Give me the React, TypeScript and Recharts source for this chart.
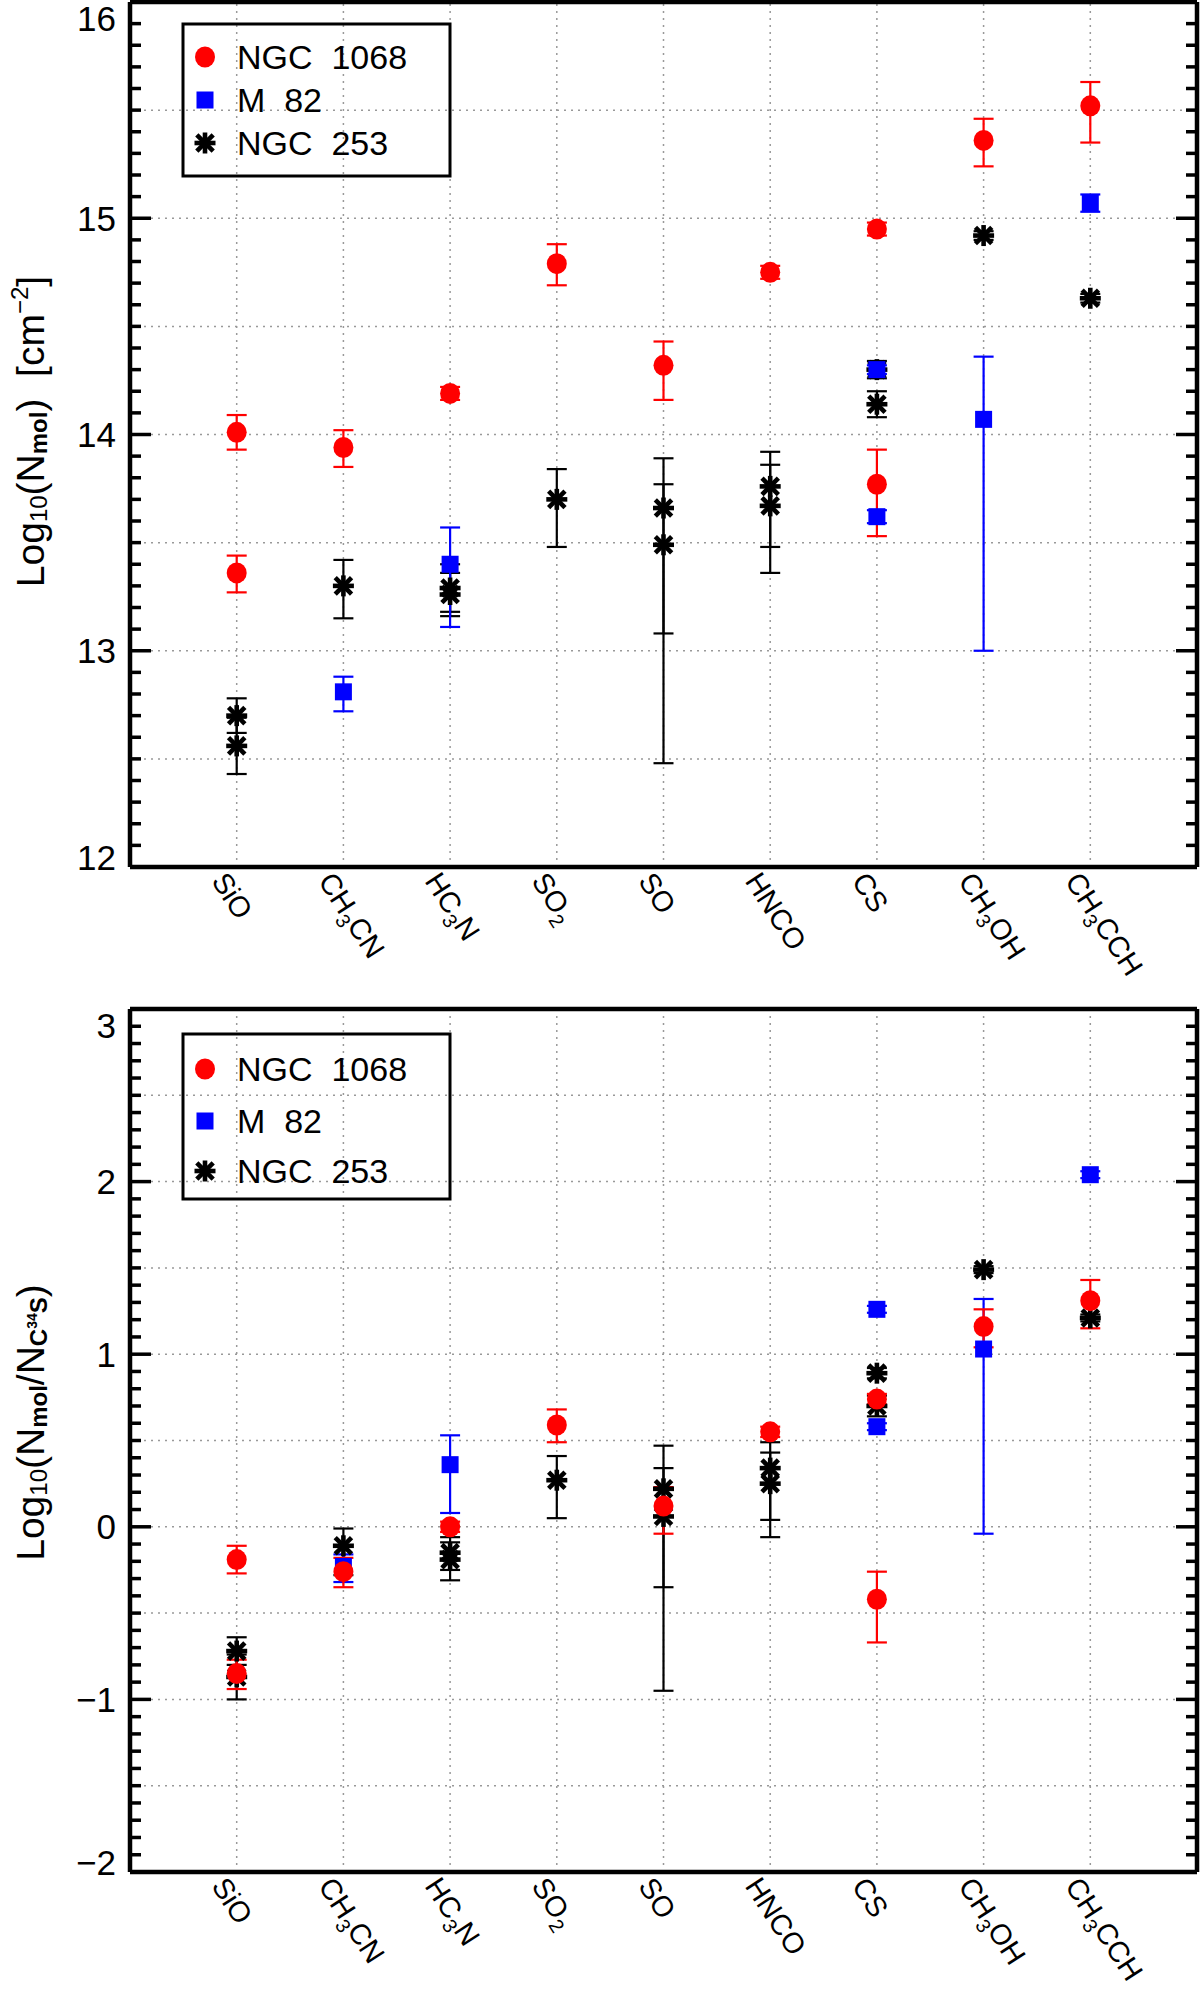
import React from "react";
import { ScatterChart, Scatter, XAxis, YAxis, ErrorBar, ReferenceLine } from "recharts";

const FONT = '"Liberation Sans", Arial, sans-serif';

const MOLECULES = ["SiO", "CH3CN", "HC3N", "SO2", "SO", "HNCO", "CS", "CH3OH", "CH3CCH"];

// [molecule, value, error down, error up]
type Row = [string, number, number, number];

// upper panel: Log10(N_mol) [cm^-2]
const TOP_NGC1068: Row[] = [
  ["SiO", 14.01, 0.08, 0.08],
  ["SiO", 13.36, 0.09, 0.08],
  ["CH3CN", 13.94, 0.09, 0.08],
  ["HC3N", 14.19, 0.03, 0.03],
  ["SO2", 14.79, 0.1, 0.09],
  ["SO", 14.32, 0.16, 0.11],
  ["HNCO", 14.75, 0.03, 0.03],
  ["CS", 14.95, 0.03, 0.03],
  ["CS", 13.77, 0.24, 0.16],
  ["CH3OH", 15.36, 0.12, 0.1],
  ["CH3CCH", 15.52, 0.17, 0.11],
];
const TOP_M82: Row[] = [
  ["CH3CN", 12.81, 0.09, 0.07],
  ["HC3N", 13.4, 0.29, 0.17],
  ["CS", 14.3, 0.02, 0.02],
  ["CS", 13.62, 0.03, 0.03],
  ["CH3OH", 14.07, 1.07, 0.29],
  ["CH3CCH", 15.07, 0.04, 0.04],
];
const TOP_NGC253: Row[] = [
  ["SiO", 12.7, 0.08, 0.08],
  ["SiO", 12.56, 0.13, 0.13],
  ["CH3CN", 13.3, 0.15, 0.12],
  ["HC3N", 13.29, 0.11, 0.11],
  ["HC3N", 13.26, 0.1, 0.1],
  ["SO2", 13.7, 0.22, 0.14],
  ["SO", 13.66, 0.58, 0.23],
  ["SO", 13.49, 1.01, 0.28],
  ["HNCO", 13.76, 0.28, 0.16],
  ["HNCO", 13.67, 0.31, 0.19],
  ["CS", 14.3, 0.04, 0.04],
  ["CS", 14.14, 0.06, 0.06],
  ["CH3OH", 14.92, 0.02, 0.02],
  ["CH3CCH", 14.63, 0.02, 0.02],
];

// lower panel: Log10(N_mol / N_C34S)
const BOT_NGC1068: Row[] = [
  ["SiO", -0.19, 0.08, 0.08],
  ["SiO", -0.85, 0.09, 0.08],
  ["CH3CN", -0.26, 0.09, 0.08],
  ["HC3N", 0.0, 0.03, 0.03],
  ["SO2", 0.59, 0.1, 0.09],
  ["SO", 0.12, 0.16, 0.11],
  ["HNCO", 0.55, 0.03, 0.03],
  ["CS", 0.74, 0.03, 0.03],
  ["CS", -0.42, 0.25, 0.16],
  ["CH3OH", 1.16, 0.12, 0.1],
  ["CH3CCH", 1.31, 0.16, 0.12],
];
const BOT_M82: Row[] = [
  ["CH3CN", -0.23, 0.09, 0.07],
  ["HC3N", 0.36, 0.28, 0.17],
  ["CS", 1.26, 0.02, 0.02],
  ["CS", 0.58, 0.02, 0.02],
  ["CH3OH", 1.03, 1.07, 0.29],
  ["CH3CCH", 2.04, 0.02, 0.02],
];
const BOT_NGC253: Row[] = [
  ["SiO", -0.72, 0.08, 0.08],
  ["SiO", -0.87, 0.13, 0.13],
  ["CH3CN", -0.11, 0.17, 0.1],
  ["HC3N", -0.15, 0.1, 0.09],
  ["HC3N", -0.19, 0.12, 0.1],
  ["SO2", 0.27, 0.22, 0.14],
  ["SO", 0.22, 0.57, 0.25],
  ["SO", 0.06, 1.01, 0.28],
  ["HNCO", 0.34, 0.3, 0.15],
  ["HNCO", 0.25, 0.31, 0.18],
  ["CS", 0.89, 0.03, 0.03],
  ["CS", 0.7, 0.06, 0.06],
  ["CH3OH", 1.49, 0.02, 0.02],
  ["CH3CCH", 1.21, 0.02, 0.02],
];

const TOP_MAJOR = [12, 13, 14, 15, 16];
const TOP_GRID = [12.5, 13, 13.5, 14, 14.5, 15, 15.5];
const BOT_MAJOR = [-2, -1, 0, 1, 2, 3];
const BOT_GRID = [-1.5, -1, -0.5, 0, 0.5, 1, 1.5, 2, 2.5];
const LEGEND = ["NGC\u00a0\u00a01068", "M\u00a0\u00a082", "NGC\u00a0\u00a0253"];

const RED = "#ff0000";
const BLUE = "#0000ff";
const BLACK = "#000000";

const PLOT_LEFT = 130;
const PLOT_RIGHT = 1197;
const XAXIS_H = 100;

const toPoints = (rows: Row[]) =>
  rows.map(([m, v, lo, hi]) => ({ x: MOLECULES.indexOf(m) + 1, y: v, err: [lo, hi] }));

function withMinor(majors: number[]) {
  const out: number[] = [];
  for (let i = 0; i < majors.length - 1; i++) {
    for (let k = 0; k < 10; k++) out.push(Math.round((majors[i] + k * 0.1) * 10) / 10);
  }
  out.push(majors[majors.length - 1]);
  return out;
}

function Dot({ cx, cy, r = 10 }: any) {
  if (cx == null || cy == null) return null;
  return <ellipse cx={cx} cy={cy} rx={r} ry={r + 0.5} fill={RED} />;
}

function Square({ cx, cy, s = 17 }: any) {
  if (cx == null || cy == null) return null;
  return <rect x={cx - s / 2} y={cy - s / 2} width={s} height={s} fill={BLUE} />;
}

function Star({ cx, cy, r = 10.5 }: any) {
  if (cx == null || cy == null) return null;
  const d = r * 0.78;
  return (
    <g stroke={BLACK} strokeWidth={4.6} strokeLinecap="butt">
      <line x1={cx - r} y1={cy} x2={cx + r} y2={cy} />
      <line x1={cx} y1={cy - r} x2={cx} y2={cy + r} />
      <line x1={cx - d} y1={cy - d} x2={cx + d} y2={cy + d} />
      <line x1={cx - d} y1={cy + d} x2={cx + d} y2={cy - d} />
    </g>
  );
}

function MoleculeLabel({ name, x, y }: { name: string; x: number; y: number }) {
  const parts = name.split(/(\d)/).filter(Boolean);
  let sub = false;
  return (
    <text x={x} y={y} transform={`rotate(57 ${x} ${y})`} fontSize={29} fontFamily={FONT} fill="#000">
      {parts.map((p, i) => {
        const isNum = /\d/.test(p);
        let dy = 0;
        if (isNum && !sub) dy = 7;
        if (!isNum && sub) dy = -7;
        sub = isNum;
        return (
          <tspan key={i} dy={dy} fontSize={isNum ? 20 : 29}>
            {p}
          </tspan>
        );
      })}
    </text>
  );
}

interface PanelProps {
  top: number;
  height: number;
  marginTop: number;
  marginBottom: number;
  majors: number[];
  grid: number[];
  n1068: Row[];
  m82: Row[];
  n253: Row[];
  title: React.ReactNode;
  titleShift: number;
  legendTop: number;
  legendHeight: number;
  legendRows: number[];
}

function Panel(p: PanelProps) {
  const domain = [p.majors[0], p.majors[p.majors.length - 1]];
  const plotTop = p.marginTop;
  const plotBottom = p.height - p.marginBottom - XAXIS_H;
  const ticks = withMinor(p.majors);

  const yTick = (t: any) => {
    const v = t.payload.value;
    const y = t.y;
    const major = Math.abs(v - Math.round(v)) < 1e-6;
    const len = major ? 21 : 11;
    let ly = y;
    if (Math.abs(v - domain[1]) < 1e-6) ly = y + 16;
    if (Math.abs(v - domain[0]) < 1e-6) ly = y - 10;
    return (
      <g>
        <line x1={PLOT_LEFT} x2={PLOT_LEFT + len} y1={y} y2={y} stroke="#000" strokeWidth={3.5} />
        <line x1={PLOT_RIGHT - len} x2={PLOT_RIGHT} y1={y} y2={y} stroke="#000" strokeWidth={3.5} />
        {major && (
          <text x={PLOT_LEFT - 14} y={ly} dy="0.36em" textAnchor="end" fontSize={35} fontFamily={FONT} fill="#000">
            {v < 0 ? `\u2212${Math.abs(v)}` : v}
          </text>
        )}
      </g>
    );
  };

  const xTick = (t: any) => {
    const name = MOLECULES[Math.round(t.payload.value) - 1];
    if (!name) return <g />;
    return <MoleculeLabel name={name} x={t.x - 26} y={plotBottom + 14} />;
  };

  return (
    <div style={{ position: "absolute", left: 0, top: p.top, width: 1200, height: p.height }}>
      <ScatterChart
        width={1200}
        height={p.height}
        margin={{ top: p.marginTop, right: 1200 - PLOT_RIGHT, left: PLOT_LEFT - 60, bottom: p.marginBottom }}
      >
        <XAxis
          dataKey="x"
          type="number"
          domain={[0, 10]}
          ticks={[1, 2, 3, 4, 5, 6, 7, 8, 9]}
          interval={0}
          allowDataOverflow
          height={XAXIS_H}
          axisLine={false}
          tickLine={false}
          tick={xTick}
        />
        <YAxis
          dataKey="y"
          type="number"
          domain={domain}
          ticks={ticks}
          interval={0}
          allowDataOverflow
          width={60}
          axisLine={false}
          tickLine={false}
          tick={yTick}
        />
        {p.grid.map((v) => (
          <ReferenceLine key={`h${v}`} y={v} stroke="#999" strokeWidth={1.5} strokeDasharray="2 5" />
        ))}
        {[1, 2, 3, 4, 5, 6, 7, 8, 9].map((v) => (
          <ReferenceLine key={`v${v}`} x={v} stroke="#999" strokeWidth={1.5} strokeDasharray="2 5" />
        ))}
        <ReferenceLine x={0} stroke="#000" strokeWidth={4.5} />
        <ReferenceLine x={10} stroke="#000" strokeWidth={4.5} />
        <ReferenceLine y={domain[0]} stroke="#000" strokeWidth={4.5} />
        <ReferenceLine y={domain[1]} stroke="#000" strokeWidth={4.5} />
        <Scatter data={toPoints(p.n253)} isAnimationActive={false} shape={(s: any) => <Star cx={s.cx} cy={s.cy} />}>
          <ErrorBar dataKey="err" direction="y" width={10} stroke={BLACK} strokeWidth={2.2} />
        </Scatter>
        <Scatter data={toPoints(p.m82)} isAnimationActive={false} shape={(s: any) => <Square cx={s.cx} cy={s.cy} />}>
          <ErrorBar dataKey="err" direction="y" width={10} stroke={BLUE} strokeWidth={2.2} />
        </Scatter>
        <Scatter data={toPoints(p.n1068)} isAnimationActive={false} shape={(s: any) => <Dot cx={s.cx} cy={s.cy} />}>
          <ErrorBar dataKey="err" direction="y" width={10} stroke={RED} strokeWidth={2.2} />
        </Scatter>
      </ScatterChart>
      <svg
        width={1200}
        height={p.height}
        style={{ position: "absolute", left: 0, top: 0, pointerEvents: "none" }}
      >
        <g transform={`translate(44 ${(plotTop + plotBottom) / 2 + p.titleShift}) rotate(-90)`}>
          <text x={0} y={0} textAnchor="middle" fontSize={39} fontFamily={FONT} fill="#000">
            {p.title}
          </text>
        </g>
        <rect x={183} y={p.legendTop} width={267} height={p.legendHeight} fill="none" stroke="#000" strokeWidth={3} />
        {p.legendRows.map((ry, i) => (
          <g key={i}>
            {i === 0 && <Dot cx={205} cy={ry} />}
            {i === 1 && <Square cx={205} cy={ry} />}
            {i === 2 && <Star cx={205} cy={ry} />}
            <text x={237} y={ry} dy="0.36em" fontSize={34} fontFamily={FONT} fill="#000">
              {LEGEND[i]}
            </text>
          </g>
        ))}
      </svg>
    </div>
  );
}

const TopTitle = (
  <>
    <tspan>Log</tspan>
    <tspan fontSize={24} dy={3}>10</tspan>
    <tspan dy={-3}>(N</tspan>
    <tspan fontSize={24} fontWeight={700} dy={3}>mol</tspan>
    <tspan dy={-3}>)</tspan>
    <tspan>{"\u00a0\u00a0[cm"}</tspan>
    <tspan fontSize={24} dy={-16}>{"\u22122"}</tspan>
    <tspan dy={16}>]</tspan>
  </>
);

const BottomTitle = (
  <>
    <tspan>Log</tspan>
    <tspan fontSize={24} dy={3}>10</tspan>
    <tspan dy={-3}>(N</tspan>
    <tspan fontSize={24} fontWeight={700} dy={3}>mol</tspan>
    <tspan dy={-3}>/N</tspan>
    <tspan fontSize={24} fontWeight={700} dy={3}>C</tspan>
    <tspan fontSize={14} fontWeight={700} dy={-10}>34</tspan>
    <tspan fontSize={24} fontWeight={700} dy={10}>S</tspan>
    <tspan dy={-3}>)</tspan>
  </>
);

export default function App() {
  return (
    <div style={{ position: "absolute", left: 0, top: 0, width: 1200, height: 1991, background: "#fff" }}>
      <Panel
        top={0}
        height={1000}
        marginTop={2}
        marginBottom={33}
        majors={TOP_MAJOR}
        grid={TOP_GRID}
        n1068={TOP_NGC1068}
        m82={TOP_M82}
        n253={TOP_NGC253}
        title={TopTitle}
        titleShift={-3}
        legendTop={24}
        legendHeight={152}
        legendRows={[57, 100, 143]}
      />
      <Panel
        top={1000}
        height={991}
        marginTop={9}
        marginBottom={19}
        majors={BOT_MAJOR}
        grid={BOT_GRID}
        n1068={BOT_NGC1068}
        m82={BOT_M82}
        n253={BOT_NGC253}
        title={BottomTitle}
        titleShift={-18}
        legendTop={34}
        legendHeight={165}
        legendRows={[69, 121, 171]}
      />
    </div>
  );
}
